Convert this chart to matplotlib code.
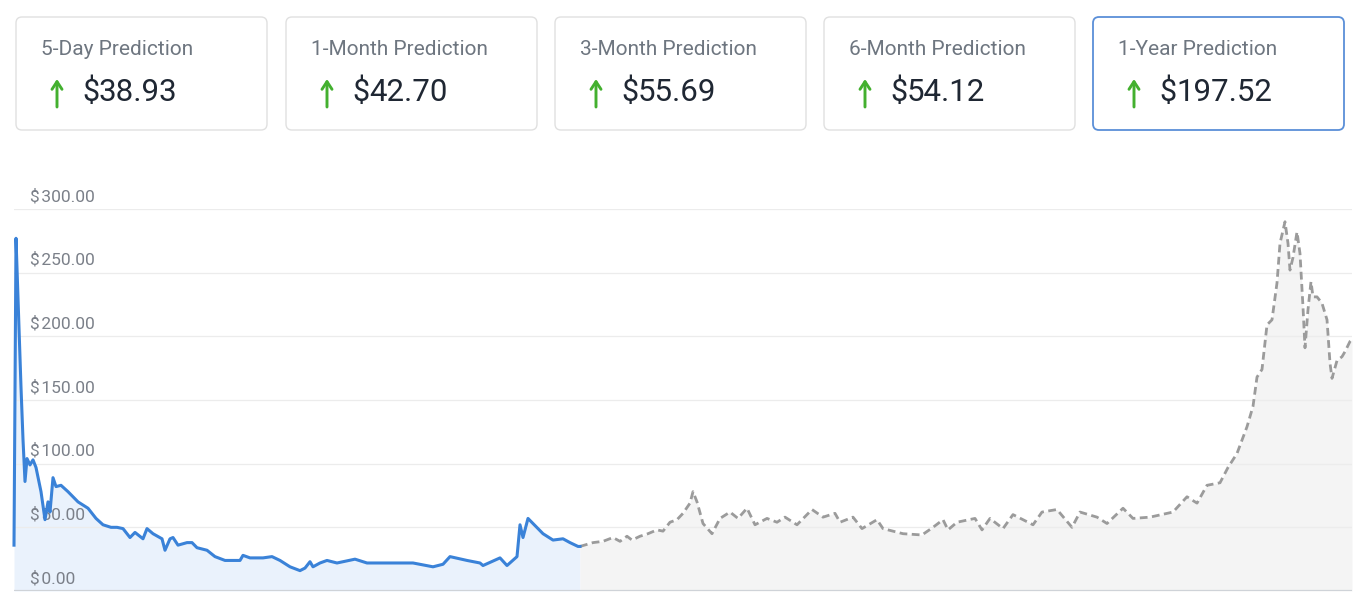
import matplotlib
matplotlib.use("Agg")
import matplotlib.pyplot as plt
from matplotlib.patches import FancyBboxPatch
from matplotlib import transforms

plt.rcParams['font.family'] = ['Roboto', 'DejaVu Sans']

# ---------------- data ----------------
card_titles = ["5-Day Prediction", "1-Month Prediction", "3-Month Prediction",
               "6-Month Prediction", "1-Year Prediction"]
card_values = ["38.93", "42.70", "55.69", "54.12", "197.52"]

hist_days = [0, 2, 4, 7, 9, 11, 13, 16, 19, 22, 27, 31, 34, 36, 39, 42, 47, 54, 64, 74,
             82, 89, 97, 103, 109, 116, 121, 129, 133, 139, 148, 151, 156, 159, 164, 173,
             178, 183, 193, 201, 211, 219, 226, 229, 236, 249, 258, 266, 276, 286, 291,
             296, 299, 306, 313, 323, 341, 353, 366, 386, 399, 419, 429, 436, 453, 466,
             469, 486, 493, 503, 506, 509, 514, 519, 529, 539, 549, 556, 564, 566]
hist_prices = [36, 277, 230, 160, 119, 86, 104, 99, 103, 97, 78, 56, 70, 62, 89, 82, 83,
               78, 70, 65, 57, 52, 50, 50, 49, 42, 46, 41, 49, 45, 41, 32, 41, 42, 36, 38,
               38, 34, 32, 27, 24, 24, 24, 28, 26, 26, 27, 24, 19, 16, 18, 23, 19, 22, 24,
               22, 25, 22, 22, 22, 22, 19, 21, 27, 24, 22, 20, 26, 20, 27, 52, 42, 57, 53,
               45, 40, 41, 38, 35, 35]

pred_days = [566, 579, 589, 599, 606, 613, 618, 626, 634, 643, 649, 656, 663, 669, 676,
             679, 683, 689, 698, 706, 716, 724, 733, 741, 753, 763, 771, 783, 798, 809,
             821, 826, 839, 848, 863, 869, 889, 908, 919, 929, 934, 943, 961, 968, 976,
             989, 999, 1019, 1028, 1043, 1058, 1066, 1083, 1093, 1109, 1119, 1136, 1159,
             1173, 1183, 1193, 1206, 1214, 1223, 1233, 1239, 1243, 1248, 1253, 1258, 1263,
             1266, 1271, 1274, 1276, 1279, 1283, 1286, 1289, 1291, 1294, 1297, 1299, 1303,
             1308, 1313, 1316, 1318, 1323, 1328, 1331, 1336, 1338]
pred_prices = [35, 38, 39, 42, 39, 43, 40, 43, 45, 48, 47, 54, 56, 61, 69, 78, 70, 53, 45,
               57, 62, 57, 65, 52, 57, 54, 58, 52, 64, 58, 61, 54, 58, 49, 56, 49, 45, 44,
               50, 56, 48, 54, 57, 48, 57, 49, 60, 52, 62, 64, 50, 62, 58, 53, 65, 57, 58,
               62, 74, 69, 83, 85, 97, 108, 129, 145, 168, 174, 209, 213, 242, 273, 290,
               273, 252, 262, 282, 265, 223, 191, 221, 243, 231, 231, 226, 213, 179, 167,
               181, 184, 188, 196, 197.52]

y_ticks = [0, 50, 100, 150, 200, 250, 300]

# ---------------- figure ----------------
W, H = 1366, 612
fig = plt.figure(figsize=(W / 100, H / 100), dpi=100)
fig.patch.set_facecolor("white")

# overlay axes in pixel coordinates for the cards
ov = fig.add_axes([0, 0, 1, 1])
ov.set_xlim(0, W)
ov.set_ylim(H, 0)
ov.axis("off")

card_lefts = [16, 286, 555, 824, 1093]
card_w, card_top, card_h = 251, 17, 113
for i, (title, val) in enumerate(zip(card_titles, card_values)):
    x0 = card_lefts[i]
    last = i == len(card_titles) - 1
    box = FancyBboxPatch((x0, card_top), card_w, card_h,
                         boxstyle="round,pad=0,rounding_size=6",
                         facecolor="white",
                         edgecolor="#5a8fd8" if last else "#e0e0e0",
                         linewidth=1.3 if last else 1.0, zorder=2)
    ov.add_patch(box)
    ov.text(x0 + 25, 49.5, title, fontsize=15, color="#6e7680",
            va="center", ha="left", zorder=3)
    # green up arrow
    ov.annotate("", xy=(x0 + 41, 79), xytext=(x0 + 41, 107),
                arrowprops=dict(arrowstyle="->,head_length=0.55,head_width=0.36",
                                color="#43b02f", lw=2.1, shrinkA=0, shrinkB=0),
                zorder=3)
    ov.text(x0 + 66, 92.5, "$", fontsize=22, color="#1f2733",
            va="center", ha="left", zorder=3)
    ov.text(x0 + 83, 92.5, val, fontsize=22.5, color="#1f2733",
            va="center", ha="left", zorder=3)

# chart axes
x_left, x_right = 14, 1352
y_zero, y_top = 591, 209
ax = fig.add_axes([x_left / W, (H - y_zero) / H, (x_right - x_left) / W,
                   (y_zero - y_top) / H])
ax.set_xlim(hist_days[0], pred_days[-1])
ax.set_ylim(0, 300)
ax.patch.set_alpha(0)
for s in ax.spines.values():
    s.set_visible(False)
ax.set_xticks([])
ax.set_yticks([])

# fills
ax.fill_between(hist_days, hist_prices, 0, color="#eaf2fc", lw=0, zorder=1)
ax.fill_between(pred_days, pred_prices, 0, color="#f4f4f4", lw=0, zorder=1)

# grid lines
for t in y_ticks[1:]:
    ax.axhline(t, color="#ececec", lw=0.9, zorder=2)
ax.axhline(0, color="#cfd3d8", lw=1.6, zorder=2)

# tick labels above gridlines
lab_tr = transforms.blended_transform_factory(ax.transAxes, ax.transData)
lab_tr = transforms.offset_copy(lab_tr, fig=fig, y=9.0, units="points")
for t in y_ticks:
    ax.text((30 - x_left) / (x_right - x_left), t, f"$\u200a{t:.2f}", transform=lab_tr,
            fontsize=12.5, color="#7b8089", ha="left", va="center", zorder=3)

# lines
ax.plot(hist_days, hist_prices, color="#3a82d8", lw=2.2, zorder=5,
        solid_joinstyle="round", clip_on=False)
ax.plot(pred_days, pred_prices, color="#9b9b9b", lw=2.0, zorder=4,
        linestyle=(0, (2.8, 1.6)), clip_on=False)

fig.savefig("out.png", dpi=100, facecolor="white")
